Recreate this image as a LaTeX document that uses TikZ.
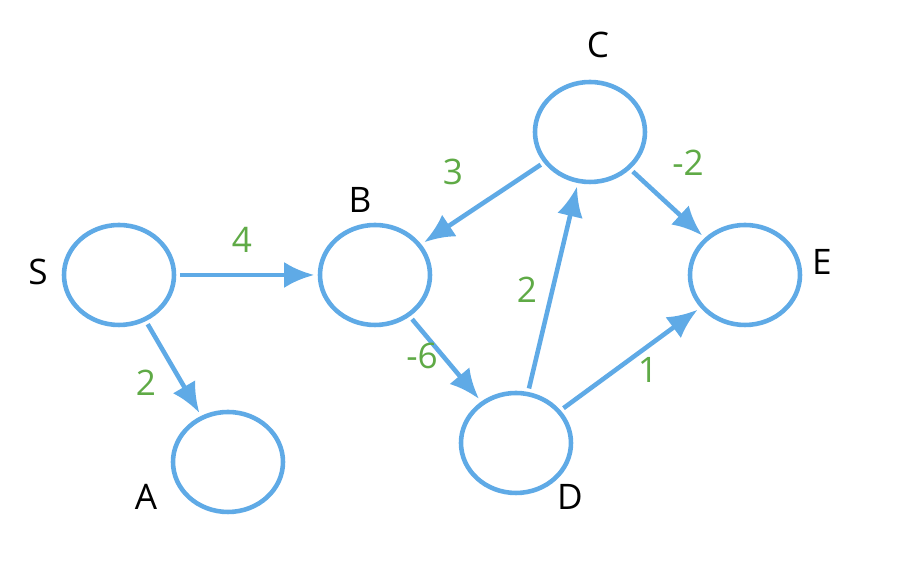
\documentclass[tikz,border=0pt]{standalone}
\usepackage{fontspec}
\setmainfont{Open Sans}
\usetikzlibrary{shapes.geometric, arrows.meta}
\definecolor{edgeblue}{RGB}{95,170,230}
\definecolor{wgreen}{RGB}{95,170,70}
\tikzset{
  vert/.style = {ellipse, draw = edgeblue, line width = 1.3pt, minimum width = 1.1cm, minimum height = 1cm},
  edge/.style = {edgeblue, line width = 1.3pt, -{Latex[length = 3mm, width = 2.6mm]}, shorten <= 1pt, shorten >= 1pt},
  wt/.style = {text = wgreen, font = \fontsize{10}{12}\selectfont},
  lbl/.style = {font = \fontsize{10}{12}\selectfont}
}
\begin{document}
\begin{tikzpicture}
\useasboundingbox (0,0) rectangle (9.11,5.75);
\path (1.19,3.00) node[vert] (S) {};
\path (3.75,3.00) node[vert] (B) {};
\path (2.28,1.13) node[vert] (A) {};
\path (5.90,4.43) node[vert] (C) {};
\path (5.16,1.32) node[vert] (D) {};
\path (7.45,3.00) node[vert] (E) {};
\path (0.38,3.03) node[lbl] (lS) {S};
\path (3.60,3.75) node[lbl] (lB) {B};
\path (1.46,0.78) node[lbl] (lA) {A};
\path (5.98,5.30) node[lbl] (lC) {C};
\path (5.70,0.78) node[lbl] (lD) {D};
\path (8.22,3.13) node[lbl] (lE) {E};
\draw[edge] (S) -- (B);
\draw[edge] (S) -- (A);
\draw[edge] (C) -- (B);
\draw[edge] (B) -- (D);
\draw[edge] (D) -- (C);
\draw[edge] (C) -- (E);
\draw[edge] (D) -- (E);
\path (2.42,3.35) node[wt] (w1) {4};
\path (1.46,1.92) node[wt] (w2) {2};
\path (4.53,4.03) node[wt] (w3) {3};
\path (4.22,2.19) node[wt] (w4) {-6};
\path (5.27,2.85) node[wt] (w5) {2};
\path (6.88,4.12) node[wt] (w6) {-2};
\path (6.48,2.05) node[wt] (w7) {1};
\end{tikzpicture}
\end{document}
